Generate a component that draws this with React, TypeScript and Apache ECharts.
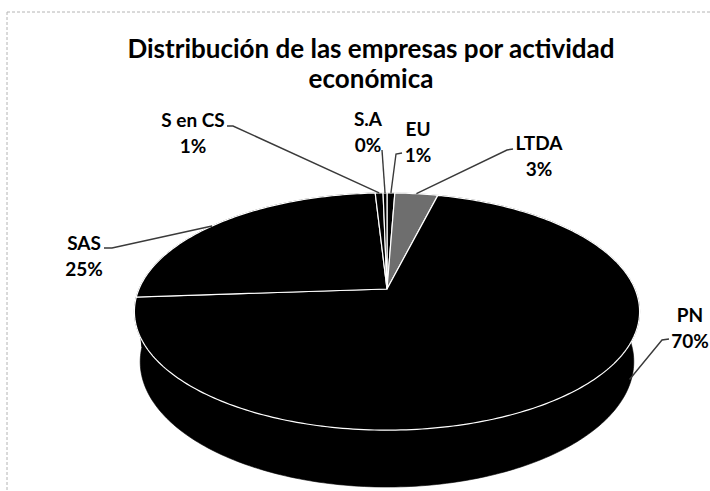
import React, { useEffect, useRef } from "react";
import * as echarts from "echarts";

// ---- data ----
const categories = ["EU", "LTDA", "PN", "SAS", "S en CS", "S.A"];
const values = [0.6, 3.3, 70.0, 25.2, 0.6, 0.3];
const titleLines = ["Distribución de las empresas por actividad", "económica"];

// ---- styles ----
const sliceColors = ["#000000", "#6e6e6e", "#000000", "#000000", "#000000", "#000000"];
const FONT = "Lato, 'Open Sans', sans-serif";

// label placement (label centre, leader points near label, optional anchor override)
type LabelSpec = { x: number; y: number; leader: number[][]; anchorAngle?: number; anchorZ?: number };
const labelLayout: Record<string, LabelSpec> = {
  EU: { x: 418, y: 141, leader: [[402, 153], [396, 154]] },
  LTDA: { x: 539, y: 155, leader: [[513, 149], [507, 150]] },
  PN: { x: 690, y: 327, leader: [[669, 339], [662, 340]], anchorAngle: 112, anchorZ: 0.85 },
  SAS: { x: 84, y: 255, leader: [[104, 248], [112, 248]], anchorAngle: 308 },
  "S en CS": { x: 193, y: 132, leader: [[227, 126], [233, 126]] },
  "S.A": { x: 368, y: 131, leader: [[382, 150]] },
};

// ---- 3D projection of the pie disc ----
const CX = 387, CY = 289, S = 248, D = 4.67, SINP = 0.461, COSP = 0.887, H = 0.23;
function proj(deg: number, r: number, z: number): number[] {
  const t = (deg * Math.PI) / 180;
  const u = r * Math.sin(t);
  const v = -r * Math.cos(t);
  const depth = D - v * COSP + z * SINP;
  const k = (S * D) / depth;
  return [CX + u * k, CY + (v * SINP + z * COSP) * k];
}
function arc(a0: number, a1: number, z: number): number[][] {
  const n = Math.max(2, Math.ceil(Math.abs(a1 - a0) / 1));
  const pts: number[][] = [];
  for (let i = 0; i <= n; i++) pts.push(proj(a0 + ((a1 - a0) * i) / n, 1, z));
  return pts;
}

const total = values.reduce((a, b) => a + b, 0);
const starts: number[] = [];
{
  let acc = 0;
  values.forEach((v) => {
    starts.push(acc);
    acc += v;
  });
}
const seriesData = values.map((v, i) => ({
  name: categories[i],
  value: [v, (starts[i] / total) * 100, ((starts[i] + v) / total) * 100],
  itemStyle: { color: sliceColors[i] },
}));

export default function App() {
  const ref = useRef<HTMLDivElement>(null);
  useEffect(() => {
    if (!ref.current) return;
    const chart = echarts.init(ref.current, undefined, { renderer: "svg" });
    const option: any = {
      animation: false,
      backgroundColor: "#ffffff",
      title: {
        text: titleLines.join("\n"),
        left: 366,
        top: 28,
        textAlign: "center",
        textStyle: { fontFamily: FONT, fontWeight: "bold", fontSize: 26, lineHeight: 30, color: "#000" },
      },
      graphic: [
        { type: "line", shape: { x1: 7, y1: 12, x2: 710, y2: 12 }, style: { stroke: "#b4b4b4", lineWidth: 1, lineDash: [3, 2] } },
        { type: "line", shape: { x1: 7, y1: 12, x2: 7, y2: 491 }, style: { stroke: "#b4b4b4", lineWidth: 1, lineDash: [3, 2] } },
      ],
      series: [
        {
          type: "custom",
          name: "sides",
          coordinateSystem: "none",
          z: 1,
          data: seriesData,
          renderItem: (params: any, api: any) => {
            const a0 = api.value(1) * 3.6;
            const a1 = api.value(2) * 3.6;
            const top = arc(a0, a1, 0);
            const bottom = arc(a1, a0, H);
            const color = api.visual("color");
            return {
              type: "polygon",
              shape: { points: top.concat(bottom) },
              style: { fill: color, stroke: color, lineWidth: 0.6 },
            };
          },
        },
        {
          type: "custom",
          name: "tops",
          coordinateSystem: "none",
          z: 2,
          data: seriesData,
          renderItem: (params: any, api: any) => {
            const a0 = api.value(1) * 3.6;
            const a1 = api.value(2) * 3.6;
            const pts = [proj(0, 0, 0)].concat(arc(a0, a1, 0));
            const color = api.visual("color");
            return {
              type: "polygon",
              shape: { points: pts },
              style: { fill: color, stroke: "#ffffff", lineWidth: 1.2 },
            };
          },
        },
        {
          type: "custom",
          name: "labels",
          coordinateSystem: "none",
          z: 3,
          data: seriesData,
          renderItem: (params: any, api: any) => {
            const idx = params.dataIndex;
            const name = categories[idx];
            const spec = labelLayout[name];
            const mid = ((api.value(1) + api.value(2)) / 2) * 3.6;
            const anchor =
              spec.anchorAngle !== undefined
                ? proj(spec.anchorAngle, 1, (spec.anchorZ || 0) * H)
                : proj(mid, 1, 0);
            const pct = Math.round((api.value(0) / total) * 100) + "%";
            return {
              type: "group",
              children: [
                {
                  type: "polyline",
                  shape: { points: spec.leader.concat([anchor]) },
                  style: { stroke: "#3a3a3a", lineWidth: 1.4, fill: "none" },
                },
                {
                  type: "text",
                  x: spec.x,
                  y: spec.y,
                  style: {
                    text: name + "\n" + pct,
                    align: "center",
                    verticalAlign: "middle",
                    fontFamily: FONT,
                    fontWeight: "bold",
                    fontSize: 19,
                    lineHeight: 26,
                    fill: "#000",
                  },
                },
              ],
            };
          },
        },
      ],
    };
    chart.setOption(option);
    return () => chart.dispose();
  }, []);
  return (
    <div
      ref={ref}
      style={{ position: "absolute", left: 0, top: 0, width: 710, height: 491, background: "#fff" }}
    />
  );
}
